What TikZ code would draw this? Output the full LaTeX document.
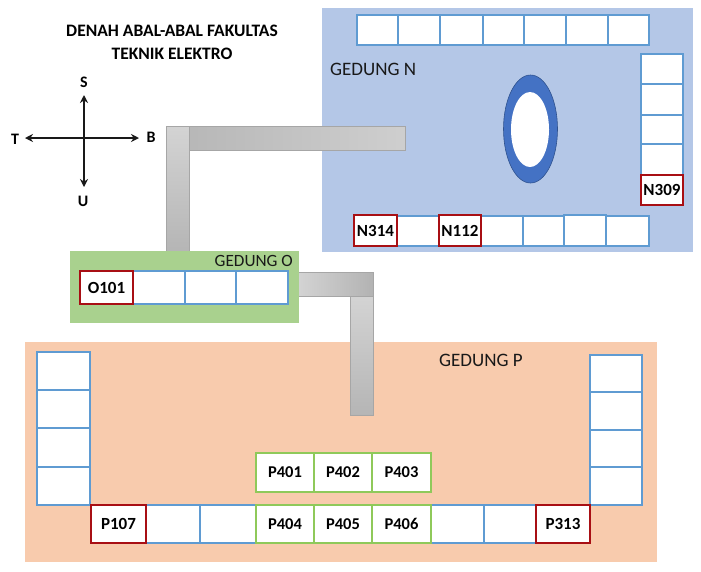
\documentclass[tikz,border=0pt]{standalone}
\usepackage{fontspec}
\usetikzlibrary{arrows.meta,shapes.geometric}
\setmainfont{Carlito}
\definecolor{blueline}{HTML}{5F9BD2}
\definecolor{redline}{HTML}{A80F14}
\definecolor{greenline}{HTML}{8FC95A}
\definecolor{nbg}{HTML}{B4C7E7}
\definecolor{obg}{HTML}{A9D18E}
\definecolor{pbg}{HTML}{F8CBAD}
\definecolor{ringblue}{HTML}{4472C4}
\definecolor{ringedge}{HTML}{2F528F}
\tikzset{
  box/.style={anchor=north west,inner sep=0pt,outer sep=0pt},
  blueroom/.style={box,draw=blueline,fill=white,line width=1.6pt},
  redroom/.style={box,draw=redline,fill=white,line width=2pt,font=\fontsize{17}{20}\bfseries\selectfont},
  greenroom/.style={box,draw=greenline,fill=white,line width=1.8pt,font=\fontsize{16.5}{20}\bfseries\selectfont},
  area/.style={box,draw=none},
  corrh/.style={box,draw=black!35,line width=.7pt,left color=black!28,right color=black!19},
  corrv/.style={box,draw=black!35,line width=.7pt,top color=black!17,bottom color=black!29},
  label/.style={inner sep=0pt,font=\fontsize{19}{22}\selectfont,text=black!90},
  compass/.style={inner sep=0pt,font=\fontsize{16}{19}\bfseries\selectfont},
  titletext/.style={inner sep=0pt,font=\fontsize{17.5}{21}\bfseries\selectfont},
  arrowline/.style={draw=black!90,line width=1.6pt,{Stealth[length=8pt,width=8pt]}-{Stealth[length=8pt,width=8pt]}}
}
% name, style, x1, y1, x2, y2, text
\newcommand{\placebox}[7]{%
  \pgfmathsetlengthmacro{\bw}{#5-#3}%
  \pgfmathsetlengthmacro{\bh}{#6-#4}%
  \node[#2,minimum width=\bw,minimum height=\bh] (#1) at (#3,#4) {#7};}
\begin{document}
\begin{tikzpicture}[x=1pt,y=-1pt]
\useasboundingbox (0,0) rectangle (701,571);
% building areas
\placebox{bgN}{area,fill=nbg}{322}{8}{693}{252}{}
\placebox{bgP}{area,fill=pbg}{25}{342}{657}{562}{}
% corridors
\placebox{c1v}{corrv}{166}{126}{189}{252}{}
\placebox{c1h}{corrh}{189}{126}{405.5}{150}{}
\placebox{c2v}{corrv}{350.5}{296}{373.5}{415}{}
\placebox{c2h}{corrh,left color=black!17,right color=black!30}{297.5}{272}{373.5}{296}{}
\placebox{bgO}{area,fill=obg}{70}{251}{299}{323}{}
% title
\node[titletext] (t1) at (172,31) {DENAH ABAL-ABAL FAKULTAS};
\node[titletext] (t2) at (172,54) {TEKNIK ELEKTRO};
% compass
\node[compass] (S) at (84,82) {S};
\node[compass] (U) at (83,201) {U};
\node[compass] (T) at (15,139) {T};
\node[compass] (B) at (151,137) {B};
\coordinate (ns) at (84,95);
\coordinate (nu) at (84,187);
\coordinate (nt) at (25,138);
\coordinate (nb) at (139,138);
\draw[arrowline] (ns) -- (nu);
\draw[arrowline] (nt) -- (nb);
% building labels
\node[label,anchor=west] (lN) at (330,69) {GEDUNG N};
\node[label,anchor=east,font=\fontsize{17.2}{21}\selectfont] (lO) at (293,261) {GEDUNG O};
\node[label,anchor=west] (lP) at (439,360) {GEDUNG P};
% Gedung N top row
\placebox{n1}{blueroom}{357}{15}{398}{45}{}
\placebox{n2}{blueroom}{398}{15}{440}{45}{}
\placebox{n3}{blueroom}{440}{15}{483}{45}{}
\placebox{n4}{blueroom}{483}{15}{524}{45}{}
\placebox{n5}{blueroom}{524}{15}{566}{45}{}
\placebox{n6}{blueroom}{566}{15}{608}{45}{}
\placebox{n7}{blueroom}{608}{15}{649}{45}{}
% Gedung N right column
\placebox{n8}{blueroom}{641}{54}{683}{84}{}
\placebox{n9}{blueroom}{641}{84}{683}{115}{}
\placebox{n10}{blueroom}{641}{115}{683}{144}{}
\placebox{n11}{blueroom}{641}{144}{683}{175}{}
\placebox{n309}{redroom}{641}{175}{683}{205}{N309}
% Gedung N bottom row
\placebox{n12}{blueroom}{397}{216}{439}{246}{}
\placebox{n13}{blueroom}{481}{216}{523}{246}{}
\placebox{n14}{blueroom}{523}{216}{564}{246}{}
\placebox{n15}{blueroom}{564}{215}{606}{246}{}
\placebox{n16}{blueroom}{606}{216}{649}{246}{}
\placebox{n314}{redroom}{354}{215}{397}{246}{N314}
\placebox{n112}{redroom}{439}{215}{481}{246}{N112}
% Ring
\node[ellipse,draw=ringedge,fill=ringblue,line width=.6pt,minimum width=54pt,minimum height=108pt,inner sep=0pt] (ringO) at (530.5,129) {};
\node[ellipse,fill=white,minimum width=38pt,minimum height=75pt,inner sep=0pt] (ringI) at (530,129.5) {};
% Gedung O
\placebox{o2}{blueroom}{133}{271}{185}{304}{}
\placebox{o3}{blueroom}{185}{271}{236}{304}{}
\placebox{o4}{blueroom}{236}{271}{288}{304}{}
\placebox{o101}{redroom}{80}{271}{133}{304}{O101}
% Gedung P left column
\placebox{p1}{blueroom}{37}{352}{90}{390}{}
\placebox{p2}{blueroom}{37}{390}{90}{428}{}
\placebox{p3}{blueroom}{37}{428}{90}{467}{}
\placebox{p4}{blueroom}{37}{467}{90}{505}{}
% Gedung P right column
\placebox{p5}{blueroom}{590}{355}{642}{392}{}
\placebox{p6}{blueroom}{590}{392}{642}{430}{}
\placebox{p7}{blueroom}{590}{430}{642}{467}{}
\placebox{p8}{blueroom}{590}{467}{642}{505}{}
% Gedung P bottom row
\placebox{p9}{blueroom}{146}{505}{200}{543}{}
\placebox{p10}{blueroom}{200}{505}{256}{543}{}
\placebox{p11}{blueroom}{431}{505}{484}{543}{}
\placebox{p12}{blueroom}{484}{505}{536}{543}{}
\placebox{p107}{redroom}{91}{505}{146}{543}{P107}
\placebox{p313}{redroom}{536}{505}{590}{543}{P313}
% Green rooms
\placebox{p401}{greenroom}{256}{453}{314}{492}{P401}
\placebox{p402}{greenroom}{314}{453}{372}{492}{P402}
\placebox{p403}{greenroom}{372}{453}{431}{492}{P403}
\placebox{p404}{greenroom}{256}{505}{314}{543}{P404}
\placebox{p405}{greenroom}{314}{505}{372}{543}{P405}
\placebox{p406}{greenroom}{372}{505}{431}{543}{P406}
\end{tikzpicture}
\end{document}
